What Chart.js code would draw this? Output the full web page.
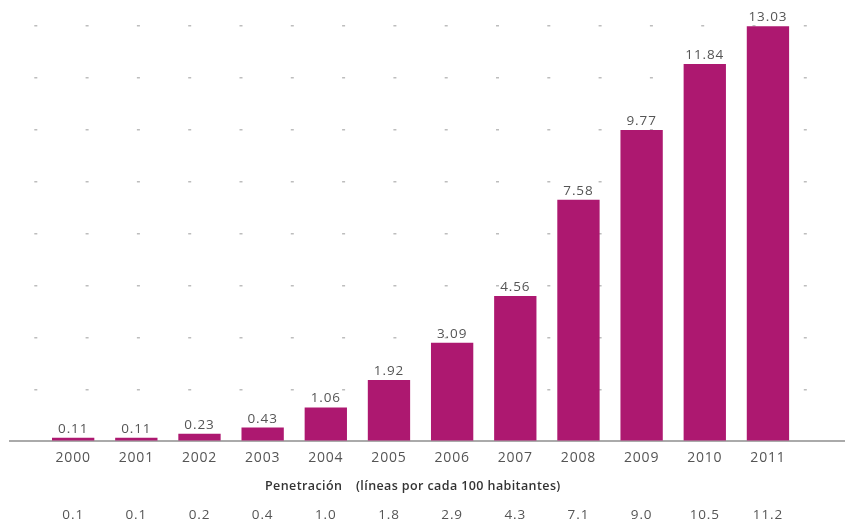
<!DOCTYPE html>
<html>
<head>
<meta charset="utf-8">
<script src="https://cdn.jsdelivr.net/npm/chart.js@4"></script>
<style>
  html, body { margin: 0; padding: 0; background: #fff; }
  #wrap { width: 845px; height: 525px; }
</style>
</head>
<body>
<div id="wrap"><canvas id="lineasChart" width="845" height="525"></canvas></div>
<script>
// Datos

const years = [2000, 2001, 2002, 2003, 2004, 2005, 2006, 2007, 2008, 2009, 2010, 2011];
const lineas = [0.11, 0.11, 0.23, 0.43, 1.06, 1.92, 3.09, 4.56, 7.58, 9.77, 11.84, 13.03];
const penetracion = ['0.1', '0.1', '0.2', '0.4', '1.0', '1.8', '2.9', '4.3', '7.1', '9.0', '10.5', '11.2'];
const gridValues = [0, 1.63, 3.26, 4.89, 6.52, 8.15, 9.78, 11.41, 13.04];
const penetracionTitulo = 'Penetración';
const penetracionUnidad = '(líneas por cada 100 habitantes)';

const fontFamily = "'Open Sans', 'DejaVu Sans', sans-serif";
const barColor = '#ad1870';
const textColor = '#555555';

// un poco de espaciado entre letras para todo el texto
const spacingPlugin = {
  id: 'spacing',
  beforeDraw(chart) {
    chart.ctx.letterSpacing = '0.8px';
  }
};

// valores encima de cada barra + fila de penetración debajo
const labelsPlugin = {
  id: 'labels',
  afterDatasetsDraw(chart) {
    const ctx = chart.ctx;
    const meta = chart.getDatasetMeta(0);
    ctx.save();
    ctx.letterSpacing = '0.9px';
    ctx.fillStyle = textColor;
    ctx.textAlign = 'center';
    ctx.font = '13.5px ' + fontFamily;
    ctx.textBaseline = 'alphabetic';
    meta.data.forEach(function (bar, i) {
      ctx.fillText(lineas[i].toFixed(2), bar.x, bar.y - 5);
    });

    ctx.textBaseline = 'middle';
    meta.data.forEach(function (bar, i) {
      ctx.fillText(penetracion[i], bar.x, 515);
    });

    ctx.fillStyle = '#333333';
    ctx.font = '600 12.5px ' + fontFamily;
    ctx.letterSpacing = '0.4px';
    ctx.textAlign = 'left';
    ctx.fillText(penetracionTitulo, 265, 486);
    ctx.fillText(penetracionUnidad, 356, 486);
    ctx.restore();
  }
};

const data = {
  datasets: [
    {
      label: 'Líneas',
      data: years.map((y, i) => ({ x: y, y: lineas[i] })),
      backgroundColor: barColor,
      borderWidth: 0,
      barPercentage: 0.67,
      categoryPercentage: 1,
    },
  ],
};

const config = {
  type: 'bar',
  data: data,
  options: {
    responsive: false,
    animation: false,
    layout: {
      padding: { left: 10, right: 0, top: 8, bottom: 51 },
    },
    plugins: {
      legend: { display: false },
      tooltip: { enabled: false },
    },
    scales: {
      x: {
        type: 'linear',
        offset: false,
        min: 1999.0,
        max: 2012.22,
        afterBuildTicks(scale) {
          scale.ticks = years.map(v => ({ value: v }));
        },
        ticks: {
          autoSkip: false,
          maxRotation: 0,
          padding: 8,
          color: textColor,
          font: { family: fontFamily, size: 14 },
          callback: v => String(v),
        },
        grid: { display: false, drawTicks: false, offset: false },
        border: { display: true, color: '#aaaaaa', width: 2 },
      },
      y: {
        min: 0,
        max: 13.6,
        afterBuildTicks(scale) {
          scale.ticks = gridValues.map(v => ({ value: v }));
        },
        ticks: { display: false },
        grid: {
          drawTicks: false,
          tickLength: 0,
          lineWidth: 1.5,
          color: ctx => (ctx.tick && ctx.tick.value === 0 ? 'rgba(0,0,0,0)' : '#bdbdbd'),
        },
        border: { display: false, dash: [3, 48.3], dashOffset: 27 },
      },
    },
  },
  plugins: [spacingPlugin, labelsPlugin],
};

const chart = new Chart(document.getElementById('lineasChart'), config);
</script>
</body>
</html>
